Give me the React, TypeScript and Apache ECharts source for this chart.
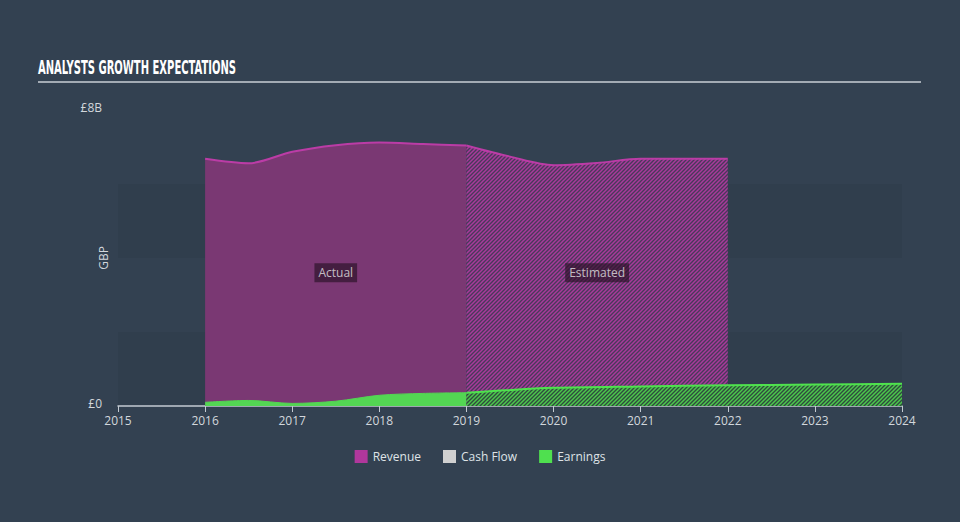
import React, { useEffect, useRef } from "react";
import * as echarts from "echarts";

// ---- data (values in £ billions) ----
const revenueActualYears = [2016, 2016.5, 2017, 2017.5, 2018, 2018.5, 2019];
const revenueActual = [6.68, 6.56, 6.87, 7.05, 7.12, 7.08, 7.04];
const revenueEstYears = [2019, 2019.5, 2020, 2020.5, 2021, 2021.5, 2022];
const revenueEst = [7.04, 6.74, 6.51, 6.57, 6.68, 6.68, 6.68];
const earningsActualYears = [2016, 2016.5, 2017, 2017.5, 2018, 2018.5, 2019];
const earningsActual = [0.1, 0.15, 0.07, 0.13, 0.29, 0.34, 0.36];
const earningsEstYears = [2019, 2020, 2021, 2022, 2023, 2024];
const earningsEst = [0.36, 0.49, 0.53, 0.56, 0.58, 0.6];
const annotations = [
  { text: "Actual", year: 2017.5, value: 3.6 },
  { text: "Estimated", year: 2020.5, value: 3.6 },
];
const yTickLabels: Record<number, string> = { 0: "£0", 8: "£8B" };
const legendNames = ["Revenue", "Cash Flow", "Earnings"];
const yAxisTitle = "GBP";

const zip = (xs: number[], ys: number[]) => xs.map((x, i) => [x, ys[i]]);

function hatch(bg: string, fg: string) {
  const s = 4;
  const c = document.createElement("canvas");
  c.width = s;
  c.height = s;
  const ctx = c.getContext("2d")!;
  ctx.fillStyle = bg;
  ctx.fillRect(0, 0, s, s);
  ctx.strokeStyle = fg;
  ctx.lineWidth = 1.5;
  ctx.beginPath();
  ctx.moveTo(-1, s + 1);
  ctx.lineTo(s + 1, -1);
  ctx.moveTo(-1, 1);
  ctx.lineTo(1, -1);
  ctx.moveTo(s - 1, s + 1);
  ctx.lineTo(s + 1, s - 1);
  ctx.stroke();
  return { image: c, repeat: "repeat", imageWidth: s, imageHeight: s } as any;
}

export default function App() {
  const ref = useRef<HTMLDivElement>(null);
  useEffect(() => {
    if (!ref.current) return;
    const chart = echarts.init(ref.current, null, { renderer: "svg" });

    const titleText = "ANALYSTS GROWTH EXPECTATIONS";
    const titleFont = "bold 20px 'DejaVu Sans Condensed', 'DejaVu Sans', sans-serif";
    const mctx = document.createElement("canvas").getContext("2d")!;
    mctx.font = titleFont;
    const tw = mctx.measureText(titleText).width || 300;
    const titleScale = 198 / tw;

    const purpleLine = "#bb3ca6";
    const greenLine = "#4fe24e";

    chart.setOption({
      animation: false,
      backgroundColor: "#334151",
      textStyle: { fontFamily: "'Open Sans', sans-serif" },
      grid: { left: 118, right: 58, top: 110, bottom: 116 },
      xAxis: {
        type: "value",
        min: 2015,
        max: 2024,
        interval: 1,
        axisLine: { show: true, lineStyle: { color: "#c3cad2", width: 1.5 } },
        axisTick: { show: true, length: 6, lineStyle: { color: "#c3cad2" } },
        axisLabel: {
          color: "#d2d7dc",
          fontSize: 12,
          margin: 8,
          formatter: (v: number) => String(v),
        },
        splitLine: { show: false },
      },
      yAxis: {
        type: "value",
        min: 0,
        max: 8,
        interval: 2,
        axisLine: { show: false },
        axisTick: { show: false },
        axisLabel: {
          color: "#d2d7dc",
          fontSize: 12,
          margin: 16,
          formatter: (v: number) => (yTickLabels[v] ? `{a|${yTickLabels[v]}}` : ""),
          rich: {
            a: { color: "#d2d7dc", fontSize: 12, padding: [0, 0, 6, 0] },
          },
        },
        splitLine: { show: false },
        splitArea: {
          show: true,
          areaStyle: { color: ["rgba(20,30,40,0.09)", "rgba(0,0,0,0)"] },
        },
      },
      legend: {
        data: legendNames,
        bottom: 54,
        left: "center",
        icon: "rect",
        itemWidth: 13,
        itemHeight: 13,
        itemGap: 22,
        textStyle: { color: "#dfe3e7", fontSize: 12 },
        selectedMode: false,
      },
      graphic: [
        {
          type: "text",
          x: 38,
          y: 67,
          scaleX: titleScale,
          style: {
            text: titleText,
            font: titleFont,
            fill: "#ffffff",
            verticalAlign: "middle",
          },
        },
        {
          type: "line",
          shape: { x1: 38, y1: 82, x2: 921, y2: 82 },
          style: { stroke: "#a3abb4", lineWidth: 2 },
        },
        {
          type: "text",
          x: 103,
          y: 258,
          rotation: Math.PI / 2,
          style: {
            text: yAxisTitle,
            fill: "#d2d7dc",
            font: "12px 'Open Sans', sans-serif",
            align: "center",
            verticalAlign: "middle",
          },
        },
      ],
      series: [
        {
          name: "Revenue",
          type: "line",
          data: zip(revenueActualYears, revenueActual),
          smooth: 0.3,
          showSymbol: false,
          itemStyle: { color: "#b0379c" },
          lineStyle: { color: purpleLine, width: 2 },
          areaStyle: { color: "#7a3873", opacity: 1 },
          z: 2,
        },
        {
          name: "Revenue",
          type: "line",
          data: zip(revenueEstYears, revenueEst),
          smooth: 0.3,
          showSymbol: false,
          itemStyle: { color: "#b0379c" },
          lineStyle: { color: purpleLine, width: 2 },
          areaStyle: { color: hatch("#48395a", "#a93a9b"), opacity: 1 },
          z: 2,
        },
        {
          name: "Cash Flow",
          type: "line",
          data: [],
          itemStyle: { color: "#d0d0d0" },
        },
        {
          name: "Earnings",
          type: "line",
          data: zip(earningsActualYears, earningsActual),
          smooth: 0.3,
          showSymbol: false,
          itemStyle: { color: "#4fe04f" },
          lineStyle: { color: "#53d653", width: 1 },
          areaStyle: { color: "#53d653", opacity: 1 },
          z: 3,
        },
        {
          name: "Earnings",
          type: "line",
          data: zip(earningsEstYears, earningsEst),
          smooth: 0.3,
          showSymbol: false,
          itemStyle: { color: "#4fe04f" },
          lineStyle: { color: greenLine, width: 2 },
          areaStyle: { color: hatch("#2f4a3e", "#4cc84c"), opacity: 1 },
          z: 3,
        },
        {
          name: "annotations",
          type: "scatter",
          data: annotations.map((a) => ({ value: [a.year, a.value], name: a.text })),
          symbolSize: 0,
          silent: true,
          z: 5,
          label: {
            show: true,
            position: "inside",
            formatter: (p: any) => p.name,
            color: "#e6e6e6",
            fontSize: 12,
            backgroundColor: "rgba(45,20,42,0.88)",
            padding: [4, 4, 3, 4],
          },
        },
      ],
    });
    return () => chart.dispose();
  }, []);
  return (
    <div
      ref={ref}
      style={{ position: "fixed", left: 0, top: 0, width: 960, height: 522 }}
    />
  );
}
